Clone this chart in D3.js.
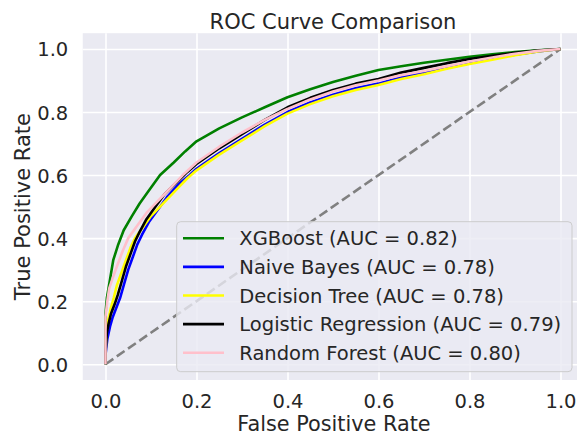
<!DOCTYPE html>
<html>
<head>
<meta charset="utf-8">
<script src="https://cdn.jsdelivr.net/npm/d3@7"></script>
<style>
  html, body { margin: 0; padding: 0; background: #ffffff; }
  svg { display: block; font-family: "DejaVu Sans", sans-serif; }
</style>
</head>
<body>
<div id="chart"></div>
<script>
// ---------- data ----------
const title = "ROC Curve Comparison";
const xLabel = "False Positive Rate";
const yLabel = "True Positive Rate";
const tickValues = [0.0, 0.2, 0.4, 0.6, 0.8, 1.0];
const tickLabels = ["0.0", "0.2", "0.4", "0.6", "0.8", "1.0"];

const seriesNames = ["XGBoost", "Naive Bayes", "Decision Tree", "Logistic Regression", "Random Forest"];
const seriesAUC = ["0.82", "0.78", "0.78", "0.79", "0.80"];
const seriesColors = ["#008000", "#0000ff", "#ffff00", "#000000", "#ffc0cb"];

const xgbFpr = [0, 0, 0.003, 0.01, 0.017, 0.028, 0.04, 0.058, 0.075, 0.095, 0.12, 0.15, 0.175, 0.2, 0.25, 0.3, 0.35, 0.4, 0.45, 0.5, 0.55, 0.6, 0.65, 0.7, 0.75, 0.8, 0.85, 0.9, 0.95, 1];
const xgbTpr = [0, 0.16, 0.21, 0.27, 0.33, 0.38, 0.425, 0.47, 0.51, 0.55, 0.6, 0.64, 0.675, 0.707, 0.748, 0.783, 0.815, 0.847, 0.872, 0.895, 0.915, 0.933, 0.945, 0.956, 0.966, 0.975, 0.983, 0.99, 0.996, 1];

const nbFpr = [0, 0, 0.004, 0.01, 0.016, 0.024, 0.032, 0.04, 0.05, 0.06, 0.07, 0.08, 0.095, 0.115, 0.135, 0.16, 0.185, 0.2, 0.25, 0.3, 0.35, 0.4, 0.45, 0.5, 0.55, 0.6, 0.65, 0.7, 0.75, 0.8, 0.85, 0.9, 0.95, 1];
const nbTpr = [0, 0.03, 0.08, 0.12, 0.15, 0.18, 0.21, 0.25, 0.3, 0.34, 0.38, 0.41, 0.45, 0.49, 0.53, 0.57, 0.6, 0.62, 0.67, 0.715, 0.76, 0.8, 0.83, 0.855, 0.875, 0.89, 0.91, 0.925, 0.94, 0.955, 0.97, 0.982, 0.992, 1];

const dtFpr = [0, 0, 0.002, 0.006, 0.012, 0.018, 0.025, 0.035, 0.045, 0.055, 0.065, 0.08, 0.1, 0.12, 0.14, 0.16, 0.18, 0.2, 0.25, 0.3, 0.35, 0.4, 0.45, 0.5, 0.55, 0.6, 0.65, 0.7, 0.75, 0.8, 0.85, 0.9, 0.95, 1];
const dtTpr = [0, 0.02, 0.1, 0.14, 0.18, 0.21, 0.25, 0.29, 0.33, 0.37, 0.4, 0.43, 0.47, 0.5, 0.53, 0.56, 0.59, 0.615, 0.665, 0.71, 0.755, 0.795, 0.825, 0.85, 0.87, 0.886, 0.905, 0.92, 0.937, 0.952, 0.966, 0.98, 0.992, 1];

const lrFpr = [0, 0, 0.003, 0.007, 0.012, 0.02, 0.027, 0.035, 0.045, 0.055, 0.065, 0.075, 0.09, 0.11, 0.13, 0.155, 0.18, 0.2, 0.25, 0.3, 0.35, 0.4, 0.45, 0.5, 0.55, 0.6, 0.65, 0.7, 0.75, 0.8, 0.85, 0.9, 0.95, 1];
const lrTpr = [0, 0.04, 0.1, 0.13, 0.16, 0.19, 0.22, 0.26, 0.31, 0.35, 0.39, 0.42, 0.46, 0.5, 0.54, 0.575, 0.61, 0.635, 0.685, 0.73, 0.775, 0.815, 0.845, 0.87, 0.89, 0.905, 0.925, 0.94, 0.955, 0.968, 0.978, 0.988, 0.995, 1];

const rfFpr = [0, 0, 0.004, 0.008, 0.015, 0.025, 0.038, 0.05, 0.07, 0.09, 0.11, 0.13, 0.15, 0.17, 0.2, 0.25, 0.3, 0.35, 0.4, 0.45, 0.5, 0.55, 0.6, 0.65, 0.7, 0.75, 0.8, 0.85, 0.9, 0.95, 1];
const rfTpr = [0, 0.15, 0.2, 0.24, 0.27, 0.31, 0.36, 0.4, 0.44, 0.48, 0.51, 0.54, 0.57, 0.6, 0.64, 0.69, 0.735, 0.775, 0.81, 0.84, 0.865, 0.885, 0.9, 0.917, 0.93, 0.945, 0.96, 0.973, 0.985, 0.994, 1];

const diagX = [0, 1];
const diagY = [0, 1];

// ---------- layout ----------
const W = 577, H = 436;
const plotLeft = 82.75, plotRight = 583.25, plotTop = 33.2, plotBottom = 380;
const textColor = "#262626";
const fontSize = 19.5;

const series = [
  { fpr: xgbFpr, tpr: xgbTpr },
  { fpr: nbFpr, tpr: nbTpr },
  { fpr: dtFpr, tpr: dtTpr },
  { fpr: lrFpr, tpr: lrTpr },
  { fpr: rfFpr, tpr: rfTpr }
].map((s, i) => ({
  name: seriesNames[i], auc: seriesAUC[i], color: seriesColors[i],
  points: s.fpr.map((f, j) => [f, s.tpr[j]])
}));

const svg = d3.select("#chart").append("svg").attr("width", W).attr("height", H);

const x = d3.scaleLinear().domain([-0.05, 1.05]).range([plotLeft, plotRight]);
const y = d3.scaleLinear().domain([-0.05, 1.05]).range([plotBottom, plotTop]);

svg.append("defs").append("clipPath").attr("id", "clip")
  .append("rect").attr("x", plotLeft).attr("y", plotTop)
  .attr("width", plotRight - plotLeft).attr("height", plotBottom - plotTop);

// background
svg.append("rect").attr("x", plotLeft).attr("y", plotTop)
  .attr("width", plotRight - plotLeft).attr("height", plotBottom - plotTop)
  .attr("fill", "#eaeaf2");

// grid
const gx = svg.append("g").attr("transform", `translate(0,${plotBottom})`)
  .call(d3.axisBottom(x).tickValues(tickValues).tickSize(-(plotBottom - plotTop)).tickFormat(""));
gx.select(".domain").remove();
gx.selectAll("line").attr("stroke", "#ffffff").attr("stroke-width", 1.6);

const gy = svg.append("g").attr("transform", `translate(${plotLeft},0)`)
  .call(d3.axisLeft(y).tickValues(tickValues).tickSize(-(plotRight - plotLeft)).tickFormat(""));
gy.select(".domain").remove();
gy.selectAll("line").attr("stroke", "#ffffff").attr("stroke-width", 1.6);

// tick labels
const ax = svg.append("g").attr("transform", `translate(0,${plotBottom})`)
  .call(d3.axisBottom(x).tickValues(tickValues).tickSize(0).tickPadding(0)
    .tickFormat((d, i) => tickLabels[i]));
ax.select(".domain").remove();
ax.selectAll("text").attr("fill", textColor).style("font-size", fontSize + "px")
  .attr("font-family", "DejaVu Sans").attr("dy", null).attr("y", 28);

const ay = svg.append("g").attr("transform", `translate(${plotLeft},0)`)
  .call(d3.axisLeft(y).tickValues(tickValues).tickSize(0).tickPadding(0)
    .tickFormat((d, i) => tickLabels[i]));
ay.select(".domain").remove();
ay.selectAll("text").attr("fill", textColor).style("font-size", fontSize + "px")
  .attr("font-family", "DejaVu Sans").attr("x", -14.5).attr("dy", "0.36em");

// plot content
const g = svg.append("g").attr("clip-path", "url(#clip)");
const line = d3.line().x(d => x(d[0])).y(d => y(d[1]));

g.append("path").datum(diagX.map((v, i) => [v, diagY[i]]))
  .attr("d", line).attr("fill", "none").attr("stroke", "#808080")
  .attr("stroke-width", 2.6).attr("stroke-dasharray", "9.5,4.2");

series.forEach(s => {
  g.append("path").datum(s.points).attr("d", line)
    .attr("fill", "none").attr("stroke", s.color).attr("stroke-width", 2.6)
    .attr("stroke-linejoin", "round");
});

// title and labels
svg.append("text").attr("x", (plotLeft + plotRight) / 2).attr("y", 29).attr("text-anchor", "middle")
  .attr("fill", textColor).style("font-size", "21px").text(title);
svg.append("text").attr("x", 334).attr("y", 431).attr("text-anchor", "middle")
  .attr("fill", textColor).style("font-size", "20.8px").text(xLabel);
svg.append("text").attr("transform", `translate(30,${(plotTop + plotBottom) / 2}) rotate(-90)`)
  .attr("text-anchor", "middle").attr("fill", textColor).style("font-size", "21px").text(yLabel);

// legend
const lg = svg.append("g");
const lgX = 176.7, lgY = 221.7, lgW = 395.3, lgH = 150;
lg.append("rect").attr("x", lgX).attr("y", lgY).attr("width", lgW).attr("height", lgH)
  .attr("rx", 4).attr("ry", 4)
  .attr("fill", "#eaeaf2").attr("fill-opacity", 0.8)
  .attr("stroke", "#cccccc").attr("stroke-width", 1);
const rowY = d3.scaleLinear().domain([0, 4]).range([238.3, 352.7]);
series.forEach((s, i) => {
  const yy = rowY(i);
  lg.append("line").attr("x1", 183).attr("x2", 224).attr("y1", yy).attr("y2", yy)
    .attr("stroke", s.color).attr("stroke-width", 2.6);
  lg.append("text").attr("x", 239.3).attr("y", yy).attr("dy", "0.36em")
    .attr("fill", textColor).style("font-size", fontSize + "px")
    .text(`${s.name} (AUC = ${s.auc})`);
});
</script>
</body>
</html>
